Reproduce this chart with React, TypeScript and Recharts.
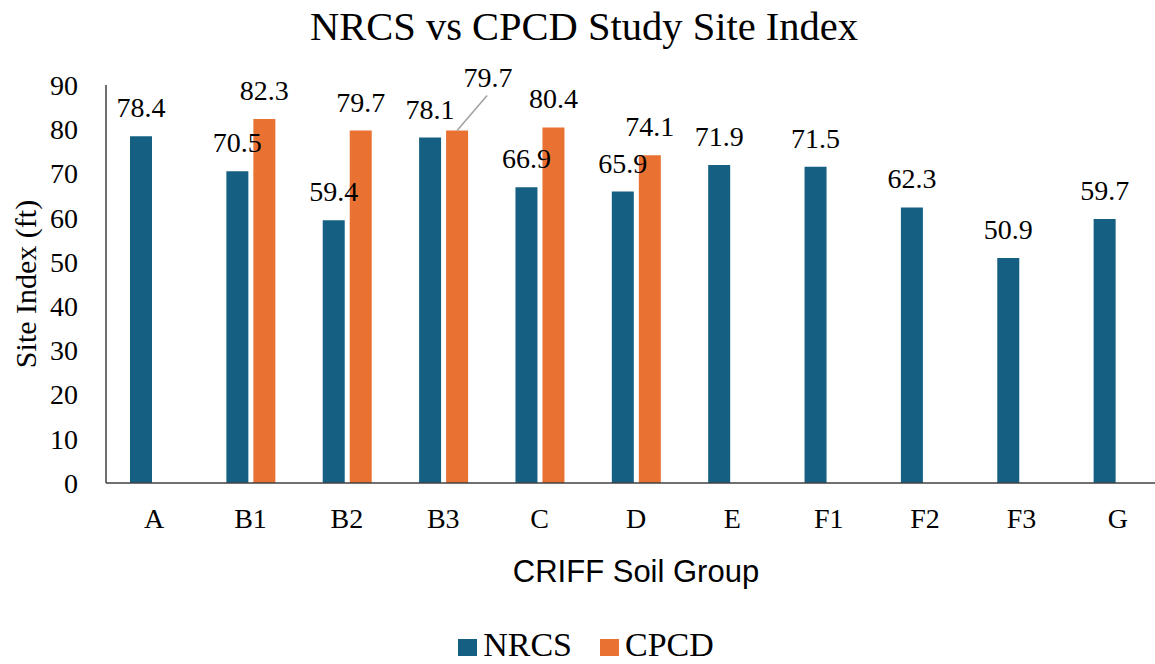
import React from 'react';
import { BarChart, Bar, XAxis, YAxis, LabelList, Label } from 'recharts';

const categories = ['A', 'B1', 'B2', 'B3', 'C', 'D', 'E', 'F1', 'F2', 'F3', 'G'];
const nrcsValues = [78.4, 70.5, 59.4, 78.1, 66.9, 65.9, 71.9, 71.5, 62.3, 50.9, 59.7];
const cpcdValues: (number | null)[] = [null, 82.3, 79.7, 79.7, 80.4, 74.1, null, null, null, null, null];
const yTicks = [0, 10, 20, 30, 40, 50, 60, 70, 80, 90];
const leaderLabelCategory = 'B3';

const seriesNames = { nrcs: 'NRCS', cpcd: 'CPCD' };
const colors = { nrcs: '#156082', cpcd: '#E97132' };

const data = categories.map((c, i) => ({ cat: c, nrcs: nrcsValues[i], cpcd: cpcdValues[i] }));

const SERIF = '"Liberation Serif", "Times New Roman", serif';
const SANS = '"Liberation Sans", Arial, sans-serif';

const cpcdAccessor = (d: any) => (d.cpcd == null ? null : `${d.cat}|${d.cpcd}`);

const renderCpcdLabel = (props: any) => {
  const { x, y, width, value } = props;
  if (value == null) return null;
  const [cat, val] = String(value).split('|');
  const cx = Number(x) + Number(width) / 2;
  const top = Number(y);
  if (cat === leaderLabelCategory) {
    return (
      <g>
        <line x1={cx} y1={top} x2={cx + 30} y2={top - 35} stroke="#A0A0A0" strokeWidth={1.5} />
        <text x={cx + 31} y={top - 44} textAnchor="middle" fontFamily={SERIF} fontSize={28} fill="#000">
          {val}
        </text>
      </g>
    );
  }
  return (
    <text x={cx} y={top - 19} textAnchor="middle" fontFamily={SERIF} fontSize={28} fill="#000">
      {val}
    </text>
  );
};

const renderNrcsLabel = (props: any) => {
  const { x, y, width, value } = props;
  if (value == null) return null;
  const cx = Number(x) + Number(width) / 2;
  return (
    <text x={cx} y={Number(y) - 19} textAnchor="middle" fontFamily={SERIF} fontSize={28} fill="#000">
      {value}
    </text>
  );
};

const legendSquare = (color: string) => ({
  display: 'inline-block', width: 19, height: 17, background: color, marginRight: 6, verticalAlign: 'baseline',
});

export default function App() {
  return (
    <div style={{ position: 'fixed', left: 0, top: 0, width: 1155, height: 664, overflow: 'hidden', background: '#fff' }}>
      <div
        style={{
          position: 'absolute', left: 0, top: 5, width: 1168, textAlign: 'center',
          fontFamily: SERIF, fontSize: 40.5, lineHeight: '44px', color: '#000',
        }}
      >
        NRCS vs CPCD Study Site Index
      </div>
      <div style={{ position: 'absolute', left: 0, top: 0 }}>
        <BarChart
          width={1171}
          height={664}
          data={data}
          margin={{ top: 85, right: 5, bottom: 81, left: 0 }}
          barCategoryGap={24}
          barGap={5}
        >
          <XAxis
            dataKey="cat"
            height={100}
            tickLine={false}
            tickMargin={19}
            axisLine={{ stroke: '#404040', strokeWidth: 1.5 }}
            tick={{ fontFamily: SERIF, fontSize: 28, fill: '#000' }}
            interval={0}
          >
            <Label
              value="CRIFF Soil Group"
              position="insideBottom"
              offset={1}
              style={{ fontFamily: SANS, fontSize: 31, fill: '#000' }}
            />
          </XAxis>
          <YAxis
            width={106}
            domain={[0, 90]}
            ticks={yTicks}
            tickLine={false}
            tickMargin={22}
            axisLine={{ stroke: '#404040', strokeWidth: 1.5 }}
            tick={{ fontFamily: SERIF, fontSize: 28, fill: '#000' }}
            interval={0}
          >
            <Label
              value="Site Index (ft)"
              angle={-90}
              position="center"
              dx={-28}
              style={{ fontFamily: SERIF, fontSize: 30, fill: '#000', textAnchor: 'middle' }}
            />
          </YAxis>
          <Bar dataKey="nrcs" name={seriesNames.nrcs} fill={colors.nrcs} isAnimationActive={false}>
            <LabelList dataKey="nrcs" content={renderNrcsLabel} />
          </Bar>
          <Bar dataKey="cpcd" name={seriesNames.cpcd} fill={colors.cpcd} isAnimationActive={false}>
            <LabelList dataKey={cpcdAccessor} content={renderCpcdLabel} />
          </Bar>
        </BarChart>
      </div>
      <div
        style={{
          position: 'absolute', left: 0, top: 628, width: 1172, textAlign: 'center',
          fontFamily: SERIF, fontSize: 34, color: '#000', lineHeight: '34px', whiteSpace: 'nowrap',
        }}
      >
        <span style={legendSquare(colors.nrcs)} />
        <span style={{ marginRight: 28 }}>{seriesNames.nrcs}</span>
        <span style={legendSquare(colors.cpcd)} />
        <span>{seriesNames.cpcd}</span>
      </div>
    </div>
  );
}
